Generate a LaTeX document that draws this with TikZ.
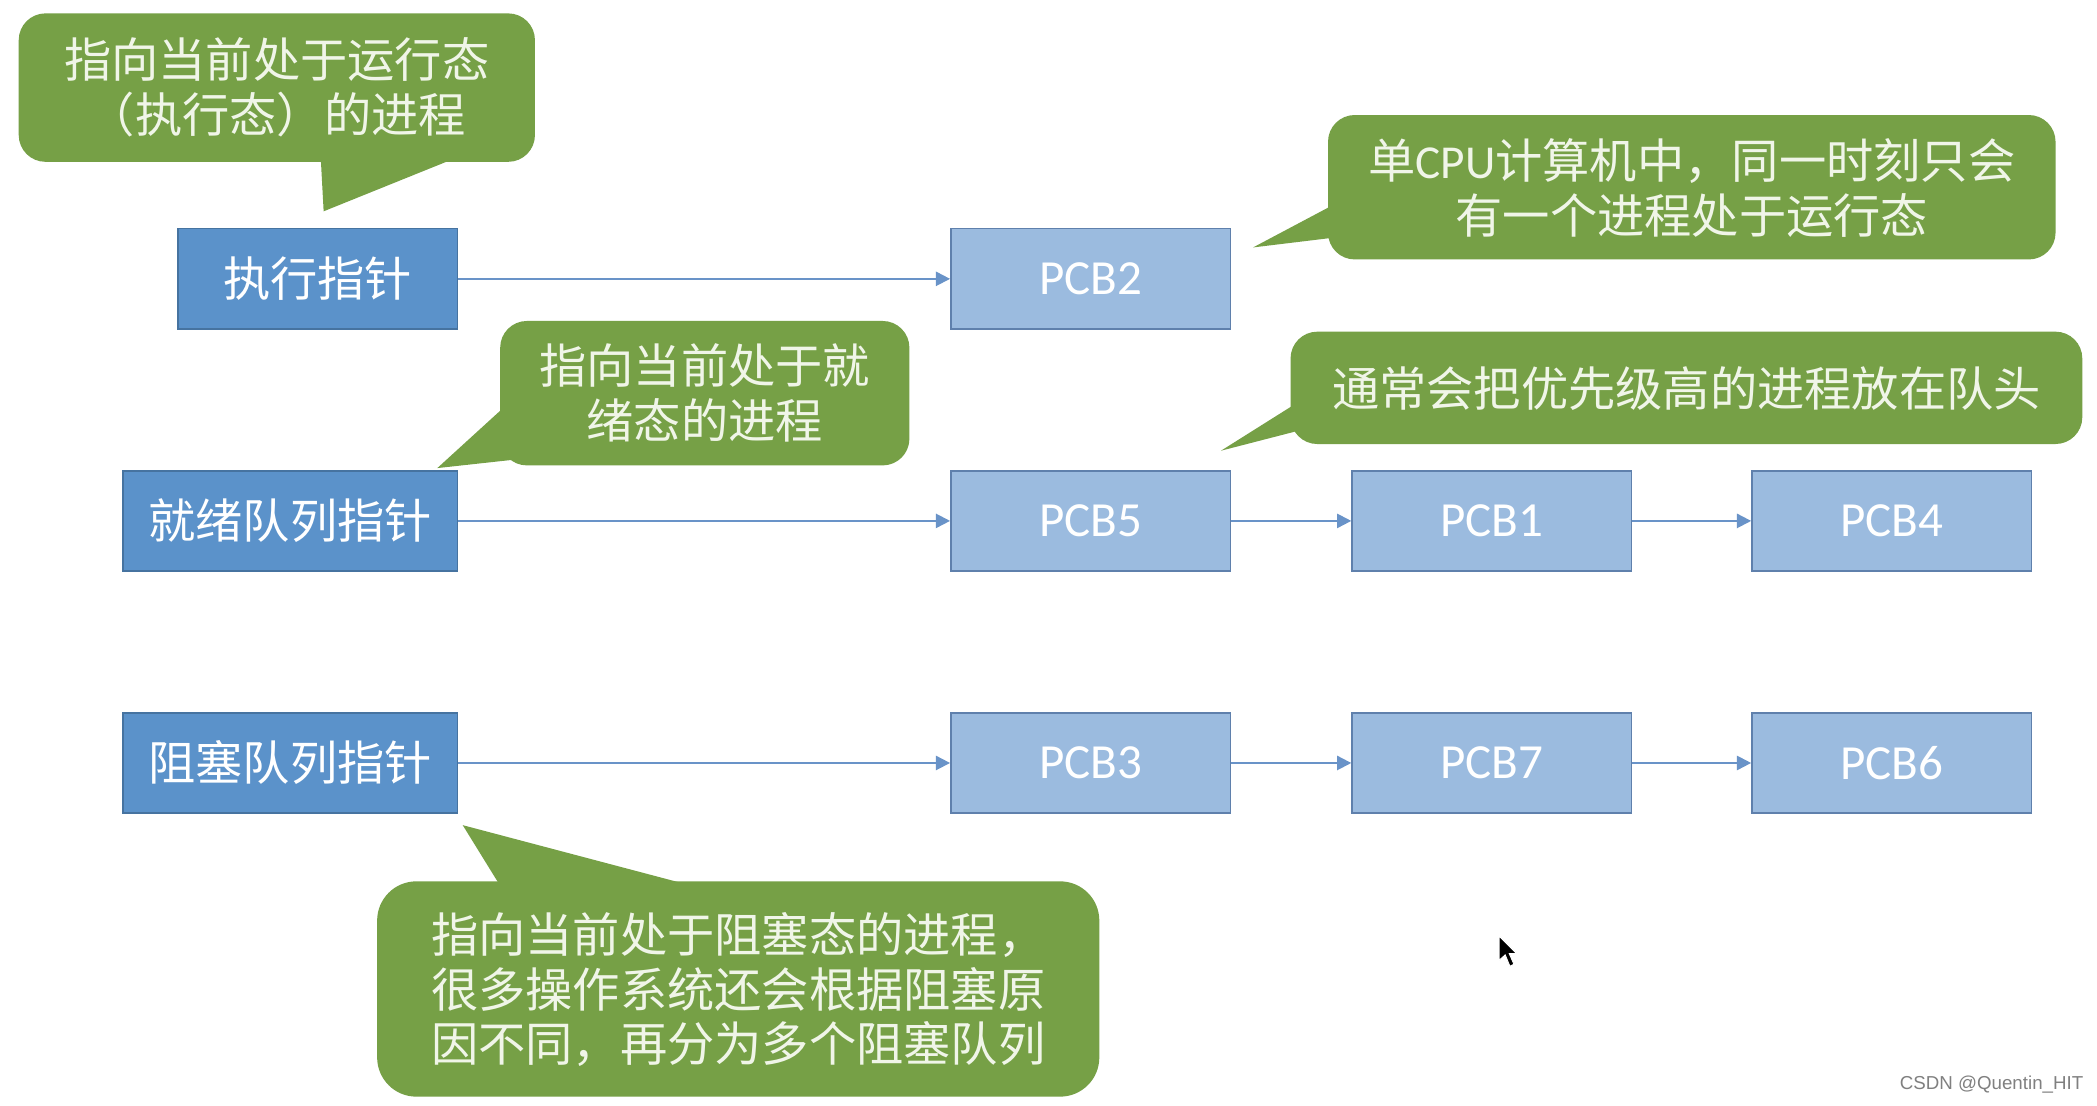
\documentclass[tikz,border=0pt]{standalone}
\usepackage{fontspec}
\setmainfont{Carlito}
\newfontfamily\cjk{Noto Sans CJK SC}
\newfontfamily\lat{Carlito}
\newfontfamily\wmfont{Liberation Sans}
\usetikzlibrary{arrows.meta}
\definecolor{ptrblue}{RGB}{91,146,202}
\definecolor{ptrborder}{RGB}{70,115,160}
\definecolor{pcbblue}{RGB}{155,187,223}
\definecolor{pcbborder}{RGB}{95,128,172}
\definecolor{callgreen}{RGB}{118,160,70}
\definecolor{calltext}{RGB}{240,245,232}
\definecolor{arrowblue}{RGB}{105,147,200}
\begin{document}
\begin{tikzpicture}[x=0.75pt,y=-0.75pt,
  ptrbox/.style={draw=ptrborder, line width=0.9pt, fill=ptrblue, minimum height=56.25pt, inner sep=0pt, text=white, font=\cjk\fontsize{26.5}{30.75}\selectfont},
  pcbbox/.style={draw=pcbborder, line width=0.9pt, fill=pcbblue, minimum width=156.75pt, minimum height=56.25pt, inner sep=0pt, text=white, font=\lat\fontsize{27.5}{30}\selectfont},
  link/.style={draw=arrowblue, line width=1.1pt, -{Triangle[length=8pt,width=8pt]}},
  callbody/.style={fill=callgreen, rounded corners=15pt},
  calltail/.style={fill=callgreen},
  calltxt/.style={text=calltext, align=center, font=\cjk\fontsize{26.5}{30.75}\selectfont, inner sep=0pt},
]
\useasboundingbox (0,0) rectangle (1568,826.3);
\fill[white] (0,0) rectangle (1568,826.3);

% pointer boxes
\node[ptrbox, minimum width=156.75pt] (exec) at (237.5,208.5) {执行指针};
\node[ptrbox, minimum width=187.5pt] (ready) at (217,389.5) {就绪队列指针};
\node[ptrbox, minimum width=187.5pt] (block) at (217,570.5) {阻塞队列指针};

% PCB boxes
\node[pcbbox] (pcb2) at (815.5,208.5) {PCB2};
\node[pcbbox] (pcb5) at (815.5,389.5) {PCB5};
\node[pcbbox] (pcb1) at (1115.5,389.5) {PCB1};
\node[pcbbox] (pcb4) at (1414.5,389.5) {PCB4};
\node[pcbbox] (pcb3) at (815.5,570.5) {PCB3};
\node[pcbbox] (pcb7) at (1115.5,570.5) {PCB7};
\node[pcbbox] (pcb6) at (1414.5,570.5) {PCB6};

% links
\draw[link] (exec) -- (pcb2);
\draw[link] (ready) -- (pcb5);
\draw[link] (pcb5) -- (pcb1);
\draw[link] (pcb1) -- (pcb4);
\draw[link] (block) -- (pcb3);
\draw[link] (pcb3) -- (pcb7);
\draw[link] (pcb7) -- (pcb6);

% callout 1
\fill[callbody] (14,10) rectangle (400,121);
\fill[calltail] (239.5,112) -- (242,158) -- (356,112) -- cycle;
\node[calltxt] (c1) at (207,65.5) {指向当前处于运行态\\（执行态）的进程};

% callout 2
\fill[callbody] (374,240) rectangle (680,348);
\fill[calltail] (384,298) -- (327,350) -- (400,342) -- cycle;
\node[calltxt] (c2) at (527,294) {指向当前处于就\\绪态的进程};

% callout 3
\fill[callbody] (993,86) rectangle (1537,194);
\fill[calltail] (1003,150) -- (937,185) -- (1003,177) -- cycle;
\node[calltxt] (c3) at (1265,140.5) {单{\lat CPU}计算机中，同一时刻只会\\有一个进程处于运行态};

% callout 4
\fill[callbody] (965,248) rectangle (1557,332);
\fill[calltail] (975,298) -- (913,337) -- (975,321) -- cycle;
\node[calltxt] (c4) at (1261,290.5) {通常会把优先级高的进程放在队头};

% callout 5
\fill[callbody, rounded corners=22pt] (282,659) rectangle (822,820);
\fill[calltail] (377.5,668) -- (346,617) -- (539,668) -- cycle;
\node[calltxt, align=left] (c5) at (552,740) {指向当前处于阻塞态的进程，\\很多操作系统还会根据阻塞原\\因不同，再分为多个阻塞队列};

% mouse cursor
\filldraw[fill=black, draw=white, line width=0.5pt] (1121,700) -- (1121,718) -- (1125.5,714) -- (1129,722.5) -- (1132,721) -- (1128.5,713) -- (1134,713) -- cycle;

% watermark
\node[anchor=east, text=black!50, font=\wmfont\fontsize{10.5}{12}\selectfont, inner sep=0pt] (wm) at (1558,811) {CSDN @Quentin\_HIT};
\end{tikzpicture}
\end{document}
